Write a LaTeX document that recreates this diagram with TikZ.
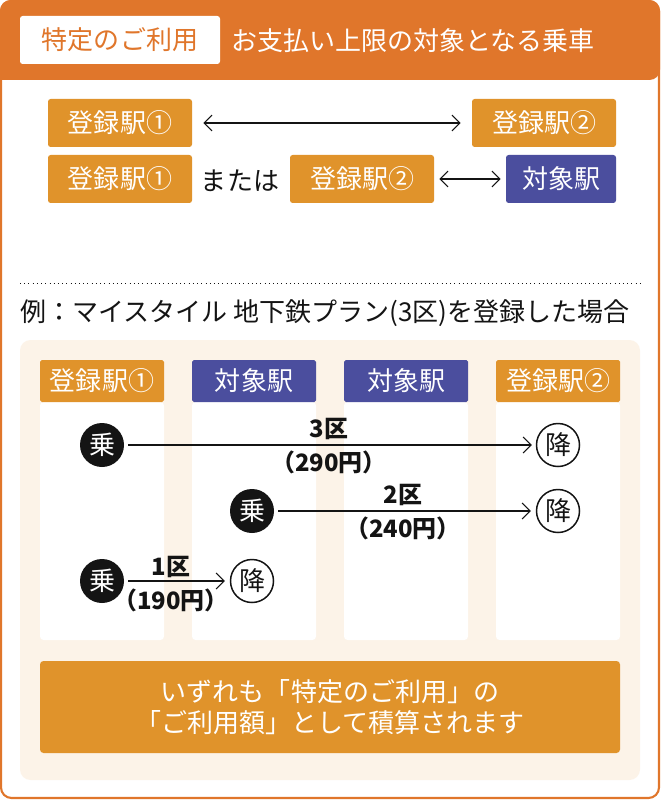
\documentclass[tikz,border=0pt]{standalone}
\usepackage{fontspec}
\setmainfont{Noto Sans CJK JP}
\usetikzlibrary{arrows.meta}

\definecolor{headorange}{HTML}{E0762B}
\definecolor{amber}{HTML}{E0932B}
\definecolor{indigo}{HTML}{4B4E9E}
\definecolor{cream}{HTML}{FCF3E8}
\definecolor{ink}{HTML}{141414}

\newcommand{\pxunit}{0.02cm}
\newcommand{\bodyfont}{\fontsize{14.8}{18}\selectfont}

\tikzset{
  stationbox/.style={rounded corners=1.5pt, text=white, font=\bodyfont, minimum width=144*\pxunit, minimum height=48*\pxunit, inner sep=0pt},
  columnhead/.style={rounded corners=1pt, text=white, font=\bodyfont, minimum width=124*\pxunit, minimum height=42*\pxunit, inner sep=0pt},
  columnbody/.style={fill=white, rounded corners=2pt, minimum width=124*\pxunit, minimum height=238*\pxunit, inner sep=0pt},
  boardmark/.style={circle, fill=ink, text=white, font=\bodyfont, minimum size=44*\pxunit, inner sep=0pt},
  alightmark/.style={circle, draw=ink, line width=0.85pt, fill=white, text=ink, font=\bodyfont, minimum size=43*\pxunit, inner sep=0pt},
  farelabel/.style={text=ink, font=\fontsize{13.6}{18}\selectfont\bfseries, inner sep=0pt},
  tripline/.style={draw=ink, line width=0.6pt, -{Straight Barb[length=4.5pt,width=9pt]}},
  bothline/.style={draw=ink, line width=0.6pt, {Straight Barb[length=4.5pt,width=9pt]}-{Straight Barb[length=4.5pt,width=9pt]}}
}

\begin{document}
\begin{tikzpicture} [x=\pxunit, y=-\pxunit]
  \useasboundingbox (0, 0) rectangle (660, 800);

  % frame and header band
  \draw [headorange, line width=1.2pt, fill=white, rounded corners=6pt] (1, 1) rectangle (659, 798);
  \fill [headorange, rounded corners=6pt] (0, 80) -- (0, 0) -- (660, 0) -- (660, 80) [sharp corners] -- cycle;
  \node (planbox) [fill=white, rounded corners=1.5pt, text=headorange, font=\bodyfont, minimum width=200*\pxunit, minimum height=48*\pxunit, inner sep=0pt] at (120, 40) {特定のご利用};
  \node (plantitle) [anchor=west, text=white, font=\bodyfont, inner sep=0pt] at (231, 41) {お支払い上限の対象となる乗車};

  % the two rules
  \node (regone) [stationbox, fill=amber] at (120, 123) {登録駅①};
  \node (regtwo) [stationbox, fill=amber] at (544, 123) {登録駅②};
  \node (regoneb) [stationbox, fill=amber] at (120, 179) {登録駅①};
  \node (orword) [text=ink, font=\bodyfont, inner sep=0pt] at (240, 181) {または};
  \node (regtwob) [stationbox, fill=amber] at (362, 179) {登録駅②};
  \node (target) [stationbox, fill=indigo, minimum width=110*\pxunit] at (561, 179) {対象駅};
  \draw [bothline, shorten <=11*\pxunit, shorten >=11*\pxunit] (regone) -- (regtwo);
  \draw [bothline, shorten <=5*\pxunit, shorten >=5*\pxunit] (regtwob) -- (target);

  \coordinate (dotleft) at (20, 283);
  \coordinate (dotright) at (640, 283);
  \draw [ink, line width=0.4pt, dotted] (dotleft) -- (dotright);

  \node (exampletitle) [anchor=west, text=ink, font=\bodyfont, inner sep=0pt] at (20, 313) {例：マイスタイル 地下鉄プラン(3区)を登録した場合};

  % example panel
  \fill [cream, rounded corners=6pt] (20, 340) rectangle (640, 780);
  \foreach \cx/\cname in {102/a, 254/b, 406/c, 558/d}
    \node (col\cname) [columnbody] at (\cx, 521) {};
  \node (heada) [columnhead, fill=amber] at (102, 381) {登録駅①};
  \node (headb) [columnhead, fill=indigo] at (254, 381) {対象駅};
  \node (headc) [columnhead, fill=indigo] at (406, 381) {対象駅};
  \node (headd) [columnhead, fill=amber] at (558, 381) {登録駅②};

  % trips
  \node (boardthree) [boardmark] at (102, 445) {乗};
  \node (alightthree) [alightmark] at (558, 445) {降};
  \node (boardtwo) [boardmark] at (252, 511) {乗};
  \node (alighttwo) [alightmark] at (558, 511) {降};
  \node (boardone) [boardmark] at (102, 581) {乗};
  \node (alightone) [alightmark] at (252, 581) {降};
  \draw [tripline, shorten <=4*\pxunit, shorten >=4*\pxunit] (boardthree) -- (alightthree);
  \draw [tripline, shorten <=4*\pxunit, shorten >=5*\pxunit] (boardtwo) -- (alighttwo);
  \draw [tripline, shorten <=4*\pxunit, shorten >=5*\pxunit] (boardone) -- (alightone);
  \node (threelabel) [farelabel] at (329, 429) {3区};
  \node (threefare) [farelabel] at (329, 462) {（290円）};
  \node (twolabel) [farelabel] at (403, 495) {2区};
  \node (twofare) [farelabel] at (403, 528) {（240円）};
  \node (onelabel) [farelabel] at (171, 567) {1区};
  \node (onefare) [farelabel] at (171, 600) {（190円）};

  \node (summary) [fill=amber, rounded corners=2pt, text=white, align=center, font=\bodyfont, minimum width=580*\pxunit, minimum height=92*\pxunit, inner sep=0pt] at (330, 707) {いずれも「特定のご利用」の\\「ご利用額」として積算されます};
\end{tikzpicture}
\end{document}
